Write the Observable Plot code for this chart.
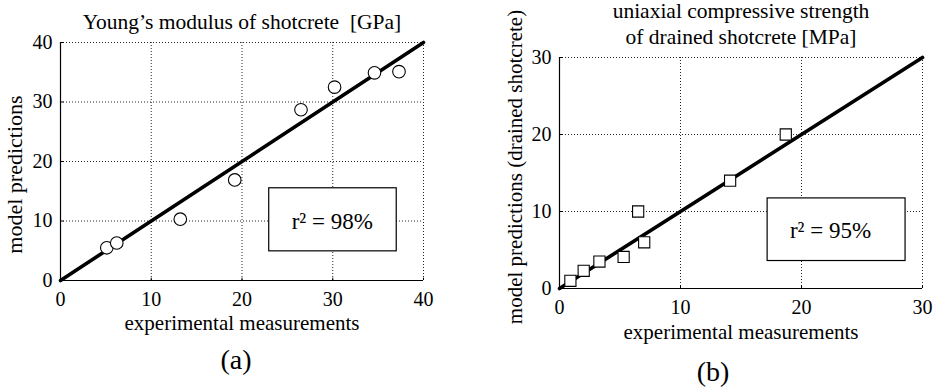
<!DOCTYPE html>
<html>
<head>
<meta charset="utf-8">
<script src="https://cdn.jsdelivr.net/npm/d3@7"></script>
<script src="https://cdn.jsdelivr.net/npm/@observablehq/plot@0.6"></script>
<style>
  html, body { margin: 0; padding: 0; background: #fff; }
  #wrap { position: relative; width: 936px; height: 387px; overflow: hidden; }
  #wrap svg { position: absolute; top: 0; overflow: visible; }
  #wrap svg, #wrap svg text { font-family: "Liberation Serif", "DejaVu Serif", serif !important; font-variant: normal !important; }
</style>
</head>
<body>
<div id="wrap"></div>
<script>
// ---- data ----
const titleA = ["Young’s modulus of shotcrete  [GPa]"];
const titleB = ["uniaxial compressive strength", "of drained shotcrete [MPa]"];
const xLabel = "experimental measurements";
const yLabelA = "model predictions";
const yLabelB = "model predictions (drained shotcrete)";
const panelA = "(a)";
const panelB = "(b)";

const ticksA = [0, 10, 20, 30, 40];
const ticksB = [0, 10, 20, 30];

const expA  = [5.1, 6.2, 13.2, 19.2, 26.5, 30.2, 34.6, 37.3];
const predA = [5.5, 6.3, 10.3, 16.9, 28.7, 32.5, 34.9, 35.1];

const expB  = [0.9, 2.0, 3.3, 5.3, 6.5, 7.0, 14.1, 18.7];
const predB = [1.0, 2.3, 3.5, 4.1, 10.0, 6.0, 14.0, 20.0];

const lineA = [0, 40];
const lineB = [0, 30];

const r2A = "r² = 98%";
const r2B = "r² = 95%";
const boxA = {x1: 23.0, x2: 37.05, y1: 4.9, y2: 15.5, tx: 29.95, ty: 9.9};
const boxB = {x1: 17.2, x2: 28.6, y1: 3.57, y2: 11.7, tx: 22.4, ty: 7.5};

// ---- drawing ----
const SERIF = '"Liberation Serif", "DejaVu Serif", serif';
function panel(opts) {
  const {width, height, margins, ticks, xs, ys, line, symbol, box, r2,
         title, yLabel, panelLabel, titleDy, yLabelDx, yLabelDy, yLabelSize, xLabelDy, panelDy, panelDx} = opts;
  const pts = xs.map((x, i) => ({x, y: ys[i]}));
  const diag = line.map(v => ({x: v, y: v}));
  const dom = [ticks[0], ticks[ticks.length - 1]];
  const tk = (dom[1] - dom[0]) * 0.01;
  return Plot.plot({
    width, height,
    marginLeft: margins[0], marginRight: margins[1], marginTop: margins[2], marginBottom: margins[3],
    style: {fontFamily: SERIF, background: "white", color: "black", overflow: "visible"},
    x: {domain: dom, ticks, axis: null},
    y: {domain: dom, ticks, axis: null},
    marks: [
      Plot.gridX(ticks.slice(1), {stroke: "black", strokeOpacity: 0.85, strokeDasharray: "1,2", strokeWidth: 1}),
      Plot.gridY(ticks.slice(1), {stroke: "black", strokeOpacity: 0.85, strokeDasharray: "1,2", strokeWidth: 1}),
      Plot.ruleX(ticks, {x: d => d, y1: dom[0], y2: dom[0] + tk, stroke: "black", strokeWidth: 1}),
      Plot.ruleY(ticks, {y: d => d, x1: dom[0], x2: dom[0] + tk, stroke: "black", strokeWidth: 1}),
      Plot.ruleX([dom[0]], {stroke: "black", strokeWidth: 1.2}),
      Plot.ruleY([dom[0]], {stroke: "black", strokeWidth: 1.2}),
      Plot.text(ticks, {x: d => d, frameAnchor: "bottom", text: d => String(d), fontSize: 20, fontFamily: SERIF, lineAnchor: "middle", dy: 19}),
      Plot.text(ticks, {y: d => d, frameAnchor: "left", textAnchor: "end", text: d => String(d), fontSize: 20, fontFamily: SERIF, lineAnchor: "middle", dx: -8}),
      Plot.line(diag, {x: "x", y: "y", stroke: "black", strokeWidth: 3.6}),
      Plot.dot(pts, {x: "x", y: "y", r: 6.3, symbol, fill: "white", stroke: "black", strokeWidth: 1.1}),
      Plot.rect([box], {x1: "x1", x2: "x2", y1: "y1", y2: "y2", fill: "white", stroke: "black", strokeWidth: 1.2}),
      Plot.text([r2], {x: () => box.tx, y: () => box.ty, text: d => d, fontSize: 23, lineAnchor: "middle"}),
      Plot.text([title.join("\n")], {frameAnchor: "top", text: d => d, fontSize: 21.5, lineAnchor: "bottom", dy: titleDy, lineHeight: 1.18}),
      Plot.text([xLabel], {frameAnchor: "bottom", text: d => d, fontSize: 21, lineAnchor: "middle", dy: xLabelDy}),
      Plot.text([yLabel], {frameAnchor: "left", textAnchor: "middle", text: d => d, fontSize: yLabelSize, lineAnchor: "middle", rotate: -90, dx: yLabelDx, dy: yLabelDy}),
      Plot.text([panelLabel], {frameAnchor: "bottom", text: d => d, fontSize: 28, lineAnchor: "middle", dy: panelDy, dx: panelDx})
    ]
  });
}

const wrap = document.getElementById("wrap");

const svgA = panel({
  width: 460, height: 387, margins: [60, 37, 42, 107],
  ticks: ticksA, xs: expA, ys: predA, line: lineA, symbol: "circle",
  box: boxA, r2: r2A, title: titleA, yLabel: yLabelA, panelLabel: panelA,
  titleDy: -14, yLabelDx: -46, yLabelDy: 13, yLabelSize: 22, xLabelDy: 43, panelDy: 80, panelDx: -6
});
svgA.style.left = "0px";
wrap.appendChild(svgA);

const svgB = panel({
  width: 476, height: 387, margins: [99, 14, 57, 99],
  ticks: ticksB, xs: expB, ys: predB, line: lineB, symbol: "square",
  box: boxB, r2: r2B, title: titleB, yLabel: yLabelB, panelLabel: panelB,
  titleDy: -14, yLabelDx: -44, yLabelDy: -6, yLabelSize: 21, xLabelDy: 44, panelDy: 84, panelDx: -28
});
svgB.style.left = "460px";
wrap.appendChild(svgB);
</script>
</body>
</html>
